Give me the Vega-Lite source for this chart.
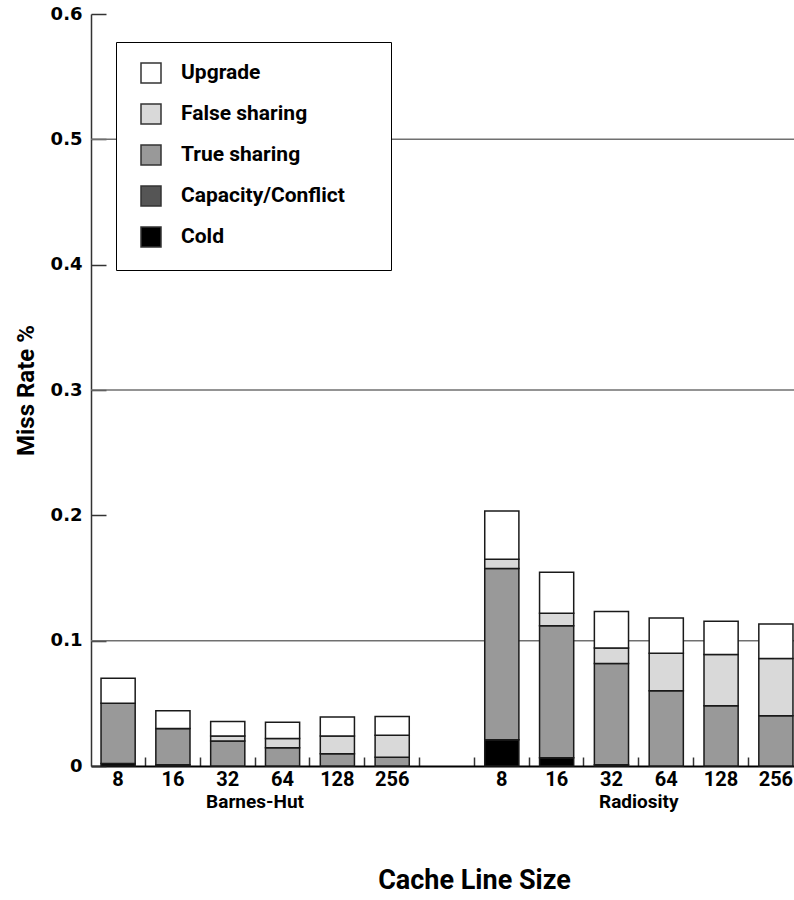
{
  "$schema": "https://vega.github.io/schema/vega-lite/v6.json",
  "width": 712,
  "height": 752,
  "autosize": {"type": "none"},
  "padding": {"left": 91, "top": 14, "right": 0, "bottom": 134},
  "background": "white",
  "config": {"view": {"stroke": null}},
  "layer": [
    {
      "data": {"values": [{"level": 0.1}, {"level": 0.3}, {"level": 0.5}]},
      "mark": {"type": "rule", "color": "#707070", "strokeWidth": 1.5},
      "encoding": {
        "y": {
          "field": "level", "type": "quantitative",
          "scale": {"domain": [0, 0.6], "nice": false},
          "axis": {
            "title": "Miss Rate %",
            "values": [0, 0.1, 0.2, 0.3, 0.4, 0.5, 0.6],
            "labelExpr": "datum.value == 0 ? '0' : format(datum.value, '.1f')",
            "grid": false,
            "tickSize": -15,
            "tickColor": "#333333",
            "tickWidth": 1.5,
            "domainColor": "#333333",
            "domainWidth": 1.5,
            "labelFont": "DejaVu Sans",
            "labelFontWeight": "bold",
            "labelFontSize": 18,
            "labelColor": "#000000",
            "labelPadding": 24,
            "titleFont": "Roboto",
            "titleFontSize": 24,
            "titleFontWeight": "bold",
            "titleColor": "#000000",
            "titlePadding": 12
          }
        }
      }
    },
    {
      "data": {"values": [
        {"slot": "Barnes-Hut|8", "type": "Cold", "value": 0.002},
        {"slot": "Barnes-Hut|8", "type": "Capacity/Conflict", "value": 0},
        {"slot": "Barnes-Hut|8", "type": "True sharing", "value": 0.048},
        {"slot": "Barnes-Hut|8", "type": "False sharing", "value": 0},
        {"slot": "Barnes-Hut|8", "type": "Upgrade", "value": 0.020},
        {"slot": "Barnes-Hut|16", "type": "Cold", "value": 0.001},
        {"slot": "Barnes-Hut|16", "type": "Capacity/Conflict", "value": 0},
        {"slot": "Barnes-Hut|16", "type": "True sharing", "value": 0.029},
        {"slot": "Barnes-Hut|16", "type": "False sharing", "value": 0},
        {"slot": "Barnes-Hut|16", "type": "Upgrade", "value": 0.014},
        {"slot": "Barnes-Hut|32", "type": "Cold", "value": 0},
        {"slot": "Barnes-Hut|32", "type": "Capacity/Conflict", "value": 0},
        {"slot": "Barnes-Hut|32", "type": "True sharing", "value": 0.020},
        {"slot": "Barnes-Hut|32", "type": "False sharing", "value": 0.004},
        {"slot": "Barnes-Hut|32", "type": "Upgrade", "value": 0.0115},
        {"slot": "Barnes-Hut|64", "type": "Cold", "value": 0},
        {"slot": "Barnes-Hut|64", "type": "Capacity/Conflict", "value": 0},
        {"slot": "Barnes-Hut|64", "type": "True sharing", "value": 0.0145},
        {"slot": "Barnes-Hut|64", "type": "False sharing", "value": 0.0075},
        {"slot": "Barnes-Hut|64", "type": "Upgrade", "value": 0.013},
        {"slot": "Barnes-Hut|128", "type": "Cold", "value": 0},
        {"slot": "Barnes-Hut|128", "type": "Capacity/Conflict", "value": 0},
        {"slot": "Barnes-Hut|128", "type": "True sharing", "value": 0.0097},
        {"slot": "Barnes-Hut|128", "type": "False sharing", "value": 0.0143},
        {"slot": "Barnes-Hut|128", "type": "Upgrade", "value": 0.015},
        {"slot": "Barnes-Hut|256", "type": "Cold", "value": 0},
        {"slot": "Barnes-Hut|256", "type": "Capacity/Conflict", "value": 0},
        {"slot": "Barnes-Hut|256", "type": "True sharing", "value": 0.007},
        {"slot": "Barnes-Hut|256", "type": "False sharing", "value": 0.0175},
        {"slot": "Barnes-Hut|256", "type": "Upgrade", "value": 0.015},
        {"slot": "Radiosity|8", "type": "Cold", "value": 0.021},
        {"slot": "Radiosity|8", "type": "Capacity/Conflict", "value": 0},
        {"slot": "Radiosity|8", "type": "True sharing", "value": 0.1365},
        {"slot": "Radiosity|8", "type": "False sharing", "value": 0.0075},
        {"slot": "Radiosity|8", "type": "Upgrade", "value": 0.0385},
        {"slot": "Radiosity|16", "type": "Cold", "value": 0.0066},
        {"slot": "Radiosity|16", "type": "Capacity/Conflict", "value": 0},
        {"slot": "Radiosity|16", "type": "True sharing", "value": 0.1054},
        {"slot": "Radiosity|16", "type": "False sharing", "value": 0.0098},
        {"slot": "Radiosity|16", "type": "Upgrade", "value": 0.0327},
        {"slot": "Radiosity|32", "type": "Cold", "value": 0.001},
        {"slot": "Radiosity|32", "type": "Capacity/Conflict", "value": 0},
        {"slot": "Radiosity|32", "type": "True sharing", "value": 0.0807},
        {"slot": "Radiosity|32", "type": "False sharing", "value": 0.0125},
        {"slot": "Radiosity|32", "type": "Upgrade", "value": 0.029},
        {"slot": "Radiosity|64", "type": "Cold", "value": 0},
        {"slot": "Radiosity|64", "type": "Capacity/Conflict", "value": 0},
        {"slot": "Radiosity|64", "type": "True sharing", "value": 0.060},
        {"slot": "Radiosity|64", "type": "False sharing", "value": 0.030},
        {"slot": "Radiosity|64", "type": "Upgrade", "value": 0.028},
        {"slot": "Radiosity|128", "type": "Cold", "value": 0},
        {"slot": "Radiosity|128", "type": "Capacity/Conflict", "value": 0},
        {"slot": "Radiosity|128", "type": "True sharing", "value": 0.048},
        {"slot": "Radiosity|128", "type": "False sharing", "value": 0.041},
        {"slot": "Radiosity|128", "type": "Upgrade", "value": 0.0264},
        {"slot": "Radiosity|256", "type": "Cold", "value": 0},
        {"slot": "Radiosity|256", "type": "Capacity/Conflict", "value": 0},
        {"slot": "Radiosity|256", "type": "True sharing", "value": 0.040},
        {"slot": "Radiosity|256", "type": "False sharing", "value": 0.0458},
        {"slot": "Radiosity|256", "type": "Upgrade", "value": 0.0274}
      ]},
      "transform": [
        {
          "lookup": "type",
          "from": {
            "data": {"values": [
              {"type": "Cold", "rank": 1},
              {"type": "Capacity/Conflict", "rank": 2},
              {"type": "True sharing", "rank": 3},
              {"type": "False sharing", "rank": 4},
              {"type": "Upgrade", "rank": 5}
            ]},
            "key": "type",
            "fields": ["rank"]
          }
        }
      ],
      "mark": {"type": "bar", "stroke": "#1a1a1a", "strokeWidth": 1.5},
      "encoding": {
        "x": {
          "field": "slot", "type": "nominal",
          "scale": {
            "domain": ["Barnes-Hut|8", "Barnes-Hut|16", "Barnes-Hut|32", "Barnes-Hut|64", "Barnes-Hut|128", "Barnes-Hut|256", "gap", "Radiosity|8", "Radiosity|16", "Radiosity|32", "Radiosity|64", "Radiosity|128", "Radiosity|256"],
            "paddingInner": 0.377, "paddingOuter": 0.183
          },
          "axis": {
            "title": "Cache Line Size",
            "labelExpr": "indexof(datum.value, '|') >= 0 ? split(datum.value, '|')[1] : ''",
            "labelAngle": 0,
            "bandPosition": 1.3,
            "tickSize": -9,
            "tickColor": "#333333",
            "tickWidth": 1.5,
            "domainColor": "#000000",
            "domainWidth": 2,
            "labelFont": "Roboto",
            "labelFontWeight": "bold",
            "labelFontSize": 20,
            "labelColor": "#000000",
            "labelPadding": 12,
            "titleFont": "Roboto",
            "titleFontSize": 27,
            "titleFontWeight": "bold",
            "titleColor": "#000000",
            "titleX": 383,
            "titleY": 114,
            "titleBaseline": "middle"
          }
        },
        "y": {
          "field": "value", "type": "quantitative",
          "scale": {"domain": [0, 0.6], "nice": false},
          "axis": {
            "title": "Miss Rate %",
            "values": [0, 0.1, 0.2, 0.3, 0.4, 0.5, 0.6],
            "labelExpr": "datum.value == 0 ? '0' : format(datum.value, '.1f')",
            "grid": false,
            "tickSize": -15,
            "tickColor": "#333333",
            "tickWidth": 1.5,
            "domainColor": "#333333",
            "domainWidth": 1.5,
            "labelFont": "DejaVu Sans",
            "labelFontWeight": "bold",
            "labelFontSize": 18,
            "labelColor": "#000000",
            "labelPadding": 24,
            "titleFont": "Roboto",
            "titleFontSize": 24,
            "titleFontWeight": "bold",
            "titleColor": "#000000",
            "titlePadding": 12
          }
        },
        "order": {"field": "rank", "type": "quantitative"},
        "color": {
          "field": "type", "type": "nominal",
          "scale": {
            "domain": ["Upgrade", "False sharing", "True sharing", "Capacity/Conflict", "Cold"],
            "range": ["#ffffff", "#d9d9d9", "#999999", "#555555", "#000000"]
          },
          "legend": {
            "title": " ",
            "titleOrient": "right",
            "titlePadding": 26,
            "titleFontSize": 10,
            "orient": "none",
            "legendX": 25,
            "legendY": 28,
            "fillColor": "#ffffff",
            "strokeColor": "#000000",
            "padding": 20,
            "symbolOffset": 4,
            "symbolType": "square",
            "symbolSize": 400,
            "symbolStrokeColor": "#333333",
            "symbolStrokeWidth": 1.5,
            "labelFont": "Roboto",
            "labelFontWeight": "bold",
            "labelFontSize": 21,
            "labelColor": "#000000",
            "labelOffset": 19,
            "labelLimit": 400,
            "rowPadding": 15
          }
        }
      }
    },
    {
      "data": {"values": [
        {"slot": "Barnes-Hut|32", "label": "Barnes-Hut"},
        {"slot": "Radiosity|32", "label": "Radiosity"}
      ]},
      "mark": {"type": "text", "dy": 36, "baseline": "middle", "align": "center", "font": "Roboto", "fontWeight": "bold", "fontSize": 19, "color": "#000000"},
      "encoding": {
        "x": {"field": "slot", "type": "nominal", "bandPosition": 1.3},
        "y": {"datum": 0, "type": "quantitative"},
        "text": {"field": "label"}
      }
    }
  ]
}
